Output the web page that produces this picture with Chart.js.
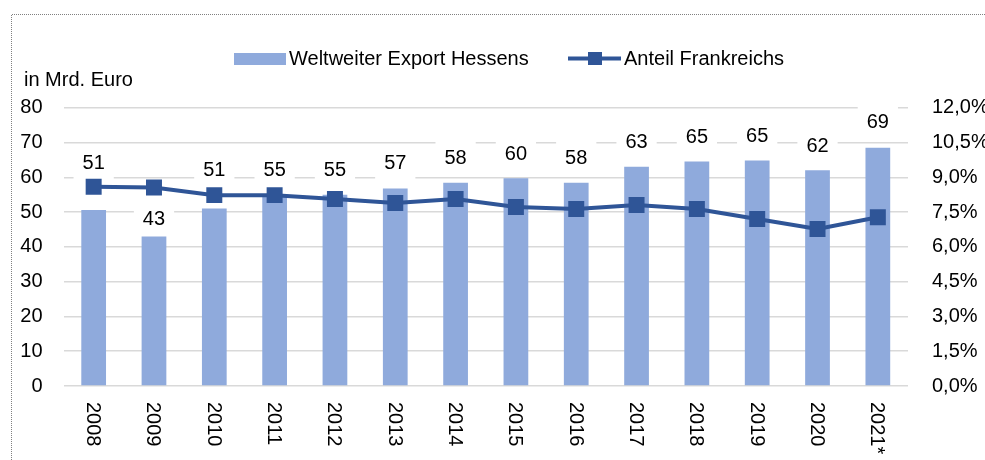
<!DOCTYPE html>
<html>
<head>
<meta charset="utf-8">
<script src="https://cdn.jsdelivr.net/npm/chart.js@4.4.0/dist/chart.umd.min.js"></script>
<style>
  html, body { margin: 0; padding: 0; background: #fff; }
  #wrap { width: 985px; height: 460px; position: relative; }
</style>
</head>
<body>
<div id="wrap"><canvas id="c" width="985" height="460"></canvas></div>
<script>
// ---- data ----
const categories = ["2008","2009","2010","2011","2012","2013","2014","2015","2016","2017","2018","2019","2020","2021*"];
const exportValues = [50.6, 43.0, 51.0, 55.0, 55.0, 56.8, 58.4, 59.7, 58.4, 63.0, 64.5, 64.8, 62.0, 68.5];
const shareFrance = [8.59, 8.56, 8.23, 8.23, 8.06, 7.89, 8.06, 7.72, 7.63, 7.80, 7.63, 7.20, 6.77, 7.28];
const leftTicks = [0, 10, 20, 30, 40, 50, 60, 70, 80];
const rightTicks = [0, 1.5, 3, 4.5, 6, 7.5, 9, 10.5, 12];
const seriesNames = ["Weltweiter Export Hessens", "Anteil Frankreichs"];
const unitLabel = "in Mrd. Euro";

// ---- styling (not data) ----
const FONT = '"Liberation Sans", Arial, sans-serif';
const BAR_COLOR = '#8FAADC';
const LINE_COLOR = '#2F5597';
const GRID_COLOR = '#D9D9D9';
const labelLift = [47, 18, 39, 25, 25, 26, 25, 25, 25, 25, 25, 25, 25, 26];
const BAR_DS = 1;

const decorPlugin = {
  id: 'decor',
  beforeDraw(chart) {
    const ctx = chart.ctx;
    ctx.save();
    ctx.fillStyle = '#fff';
    ctx.fillRect(0, 0, chart.width, chart.height);
    ctx.strokeStyle = '#808080';
    ctx.lineWidth = 1;
    ctx.setLineDash([1, 1]);
    ctx.beginPath();
    ctx.moveTo(11.5, 460);
    ctx.lineTo(11.5, 14.5);
    ctx.lineTo(985, 14.5);
    ctx.stroke();
    ctx.setLineDash([]);
    ctx.restore();
  },
  beforeDatasetsDraw(chart) {
    const ctx = chart.ctx;
    const meta = chart.getDatasetMeta(BAR_DS);
    ctx.save();
    ctx.font = '20px ' + FONT;
    ctx.fillStyle = '#fff';
    meta.data.forEach((bar, i) => {
      const txt = String(Math.round(exportValues[i]));
      const w = ctx.measureText(txt).width + 18;
      const cy = bar.y - labelLift[i];
      ctx.fillRect(bar.x - w / 2, cy - 17, w, 34);
    });
    ctx.restore();
  },
  afterDatasetsDraw(chart) {
    const ctx = chart.ctx;
    const meta = chart.getDatasetMeta(BAR_DS);
    ctx.save();
    ctx.font = '20px ' + FONT;
    ctx.fillStyle = '#000';
    ctx.textAlign = 'center';
    ctx.textBaseline = 'middle';
    meta.data.forEach((bar, i) => {
      const txt = String(Math.round(exportValues[i]));
      ctx.fillText(txt, bar.x, bar.y - labelLift[i] + 1);
    });
    ctx.restore();
  },
  afterDraw(chart) {
    const ctx = chart.ctx;
    const xs = chart.scales.x;
    ctx.save();
    ctx.font = '20px ' + FONT;
    ctx.fillStyle = '#000';
    categories.forEach((c, i) => {
      const x = xs.getPixelForValue(i);
      ctx.save();
      ctx.translate(x - 1, 402);
      ctx.rotate(Math.PI / 2);
      ctx.textAlign = 'left';
      ctx.textBaseline = 'middle';
      ctx.fillText(c, 0, 0);
      ctx.restore();
    });
    ctx.textAlign = 'left';
    ctx.textBaseline = 'alphabetic';
    ctx.fillText(unitLabel, 24, 86);
    ctx.fillStyle = BAR_COLOR;
    ctx.fillRect(234, 53, 52, 12);
    ctx.fillStyle = '#000';
    ctx.fillText(seriesNames[0], 289, 65);
    ctx.strokeStyle = LINE_COLOR;
    ctx.lineWidth = 4;
    ctx.beginPath();
    ctx.moveTo(568, 58.5);
    ctx.lineTo(621, 58.5);
    ctx.stroke();
    ctx.fillStyle = LINE_COLOR;
    ctx.fillRect(588, 52, 14, 13);
    ctx.fillStyle = '#000';
    ctx.fillText(seriesNames[1], 624, 65);
    ctx.restore();
  }
};

new Chart(document.getElementById('c'), {
  data: {
    labels: categories,
    datasets: [
      {
        type: 'line',
        label: seriesNames[1],
        data: shareFrance,
        yAxisID: 'y1',
        borderColor: LINE_COLOR,
        backgroundColor: LINE_COLOR,
        borderWidth: 4,
        pointStyle: 'rect',
        pointRadius: 11.3,
        pointBorderWidth: 0,
        pointBackgroundColor: LINE_COLOR,
        tension: 0,
        order: 0
      },
      {
        type: 'bar',
        label: seriesNames[0],
        data: exportValues,
        yAxisID: 'y',
        backgroundColor: BAR_COLOR,
        borderWidth: 0,
        barPercentage: 0.41,
        categoryPercentage: 1.0,
        order: 1
      }
    ]
  },
  options: {
    responsive: false,
    animation: false,
    devicePixelRatio: 1,
    layout: { padding: { left: 0, right: 0, top: 107.7, bottom: 74 } },
    plugins: { legend: { display: false }, tooltip: { enabled: false } },
    scales: {
      x: { display: false, offset: true, grid: { display: false } },
      y: {
        position: 'left',
        min: 0, max: 80,
        afterBuildTicks(scale) { scale.ticks = leftTicks.map(v => ({ value: v })); },
        afterFit(scale) { scale.width = 63.5; },
        grid: { color: GRID_COLOR, lineWidth: 1.5, drawTicks: false },
        border: { display: false },
        ticks: { color: '#000', padding: 21, font: { size: 20, family: FONT } }
      },
      y1: {
        position: 'right',
        min: 0, max: 12,
        afterBuildTicks(scale) { scale.ticks = rightTicks.map(v => ({ value: v })); },
        afterFit(scale) { scale.width = 77; },
        grid: { display: false, drawTicks: false },
        border: { display: false },
        ticks: {
          color: '#000', padding: 24, font: { size: 20, family: FONT },
          callback: v => v.toFixed(1).replace('.', ',') + '%'
        }
      }
    }
  },
  plugins: [decorPlugin]
});
</script>
</body>
</html>
